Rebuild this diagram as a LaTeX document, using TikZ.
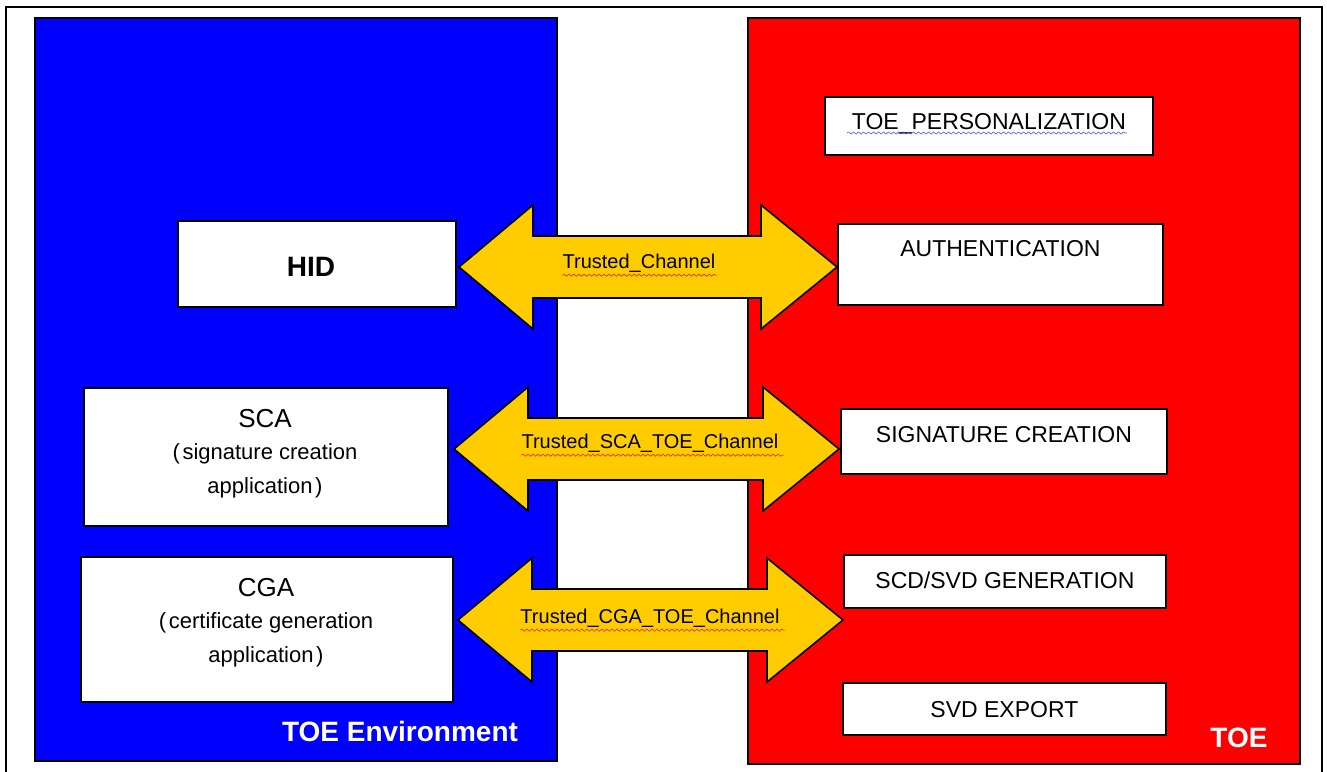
\documentclass[tikz,border=0pt]{standalone}
\usepackage{fontspec}
\setmainfont{Liberation Sans}
\usetikzlibrary{calc,decorations.pathmorphing}
\definecolor{envblue}{RGB}{0,0,255}
\definecolor{toered}{RGB}{255,0,0}
\definecolor{chanyellow}{RGB}{255,204,0}
\definecolor{spellred}{RGB}{230,40,20}
\definecolor{spellblue}{RGB}{70,90,255}
\begin{document}
\begin{tikzpicture}[x=1pt,y=-1pt,
  panel/.style={draw=black,line width=1.8pt},
  box/.style={draw=black,fill=white,line width=1.8pt,inner sep=0pt,anchor=north west,
    font=\fontsize{23}{27}\selectfont},
  plainbox/.style={draw=black,fill=white,line width=1.8pt,inner sep=0pt,anchor=north west},
  title/.style={anchor=base,inner sep=0pt,font=\fontsize{26}{30}\selectfont},
  sub/.style={anchor=base,inner sep=0pt,font=\fontsize{22}{26}\selectfont},
  chan/.style={draw=black,fill=chanyellow,line width=1.6pt,line join=miter},
  chanlabel/.style={anchor=base,inner sep=0pt,font=\fontsize{20}{24}\selectfont},
  panellabel/.style={anchor=base,inner sep=0pt,text=white,font=\fontsize{28}{32}\selectfont\bfseries},
  squiggle/.style={line width=0.6pt,decorate,decoration={snake,segment length=5pt,amplitude=1.1pt}}
]
\useasboundingbox (0,0) rectangle (1327,771);
% outer frame
\draw[line width=2.4pt] (6,790) -- (6,7) -- (1322,7) -- (1322,790);
% panels
\node[panel,fill=envblue,inner sep=0pt,anchor=north west,minimum width=522pt,minimum height=743pt] (env) at (34,17) {};
\node[panel,fill=toered,inner sep=0pt,anchor=north west,minimum width=552pt,minimum height=746pt] (toe) at (747,17) {};
\node[panellabel] (envlabel) at (400,741) {TOE Environment};
\node[panellabel] (toelabel) at (1239,747) {TOE};
% left boxes
\node[box,minimum width=278pt,minimum height=86pt] (hid) at (177,220) {};
\node[anchor=base,inner sep=0pt,font=\fontsize{28}{32}\selectfont\bfseries] (hidt) at (311,276) {HID};
\node[plainbox,minimum width=364pt,minimum height=138pt] (sca) at (83,387) {};
\node[title] (scat) at (265,427) {SCA};
\node[sub] (scas1) at (265,459) {(\hspace{0.12em}signature creation};
\node[sub] (scas2) at (265,493) {application\hspace{0.12em})};
\node[plainbox,minimum width=372pt,minimum height=145pt] (cga) at (80,556) {};
\node[title] (cgat) at (266,596) {CGA};
\node[sub] (cgas1) at (266,628) {(\hspace{0.12em}certificate generation};
\node[sub] (cgas2) at (266,662) {application\hspace{0.12em})};
% right boxes
\node[box,minimum width=328pt,text height=33pt,text depth=25pt] (pers) at (824,96) {TOE\_PERSONALIZATION};
\node[box,minimum width=325pt,text height=33pt,text depth=48pt] (auth) at (837,223) {AUTHENTICATION};
\node[box,minimum width=326pt,text height=34pt,text depth=31pt] (sig) at (840,408) {SIGNATURE CREATION};
\node[box,minimum width=322pt,text height=34pt,text depth=19pt] (scd) at (843,554) {SCD/SVD GENERATION};
\node[box,minimum width=323pt,text height=35pt,text depth=17pt] (svd) at (842,682) {SVD EXPORT};
\draw[squiggle,spellblue] (847,133) -- (1127,133);
% channels
\coordinate (c1L) at (459,267); \coordinate (c1R) at (837,267);
\coordinate (c2L) at (454,449); \coordinate (c2R) at (839,449);
\coordinate (c3L) at (458,620); \coordinate (c3R) at (843,620);
\foreach \n in {1,2,3}{
  \draw[chan] (c\n L) -- ++(74,-62) -- ++(0,31) -- ($(c\n R)+(-76,-31)$) -- ++(0,-31)
    -- (c\n R) -- ++(-76,62) -- ++(0,-31) -- ($(c\n L)+(74,31)$) -- ++(0,31) -- cycle;
}
\node[chanlabel] (ch1) at (639,268) {Trusted\_Channel};
\node[chanlabel] (ch2) at (650,448) {Trusted\_SCA\_TOE\_Channel};
\node[chanlabel] (ch3) at (650,623) {Trusted\_CGA\_TOE\_Channel};
\draw[squiggle,spellred] (ch1.south west) ++(0,3) -- ++(155,0);
\draw[squiggle,spellred] (ch2.south west) ++(0,3) -- ++(263,0);
\draw[squiggle,spellred] (ch3.south west) ++(0,3) -- ++(265,0);
\end{tikzpicture}
\end{document}
